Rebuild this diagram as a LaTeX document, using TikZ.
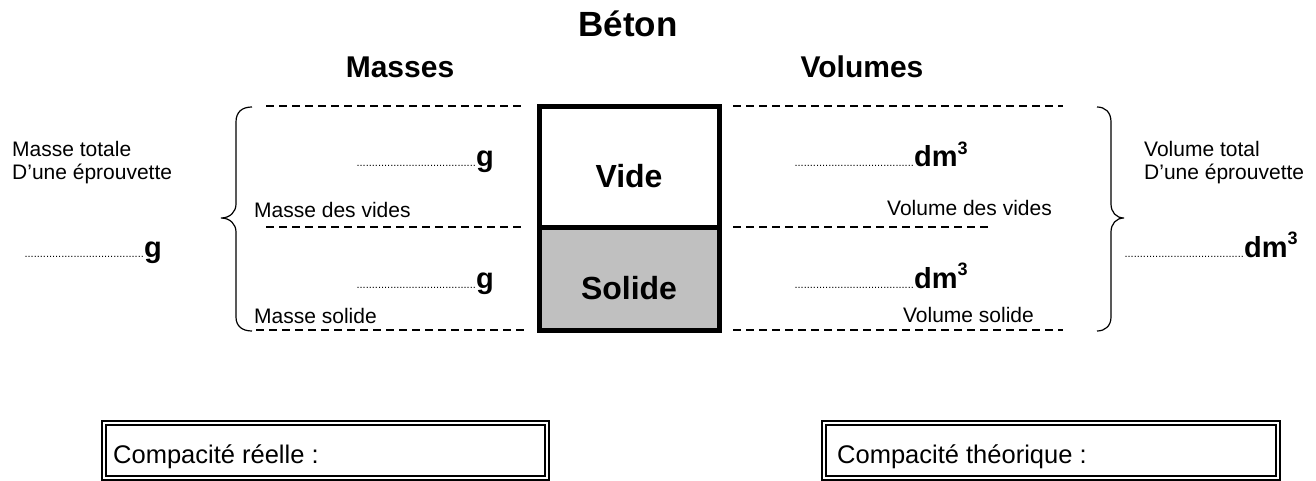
\documentclass[tikz,border=0pt]{standalone}
\usepackage{fontspec}
\setmainfont{Liberation Sans}
\definecolor{solidgray}{HTML}{C0C0C0}
\newcommand{\dotrow}{.......................................}
\newcommand{\cubed}{dm\raisebox{0.42em}{\fontsize{18}{20}\selectfont 3}}
\begin{document}
\begin{tikzpicture}[x=1pt,y=-1pt,
  lbl/.style={font=\fontsize{21}{24}\selectfont, inner sep=0pt},
  boxlbl/.style={font=\fontsize{25.5}{30}\selectfont, inner sep=0pt},
  unit/.style={font=\fontsize{29}{34}\selectfont\bfseries, inner sep=0pt},
  dotsnode/.style={font=\fontsize{11}{13}\selectfont, inner sep=0pt},
  head/.style={font=\fontsize{30}{36}\selectfont\bfseries, inner sep=0pt},
  cell/.style={font=\fontsize{32}{38}\selectfont\bfseries, inner sep=0pt},
  dashline/.style={line width=1.3pt, dash pattern=on 8pt off 5pt},
  bracestyle/.style={line width=1.2pt},
  boxline/.style={line width=1.2pt}]
\useasboundingbox (0,0) rectangle (1316,481);

% title and headers
\node[font=\fontsize{35}{40}\selectfont\bfseries, inner sep=0pt, anchor=base] (title) at (628,37) {Béton};
\node[head, anchor=base] (masses) at (400,78) {Masses};
\node[head, anchor=base] (volumes) at (862,78) {Volumes};

% central box
\fill[white] (539.5,107) rectangle (719.5,227);
\fill[solidgray] (539.5,227) rectangle (719.5,330);
\draw[line width=5pt] (539.5,107) rectangle (719.5,330);
\draw[line width=5pt] (539.5,227) -- (719.5,227);
\node[cell, anchor=base] (vide) at (629,187) {Vide};
\node[cell, anchor=base] (solide) at (629,299) {Solide};

% dashed lines left
\coordinate (lt1) at (266,106); \coordinate (lt2) at (524,106);
\coordinate (lm1) at (266,227); \coordinate (lm2) at (524,227);
\coordinate (lb1) at (256,330); \coordinate (lb2) at (524,330);
\draw[dashline] (lt1) -- (lt2);
\draw[dashline] (lm1) -- (lm2);
\draw[dashline] (lb1) -- (lb2);
% dashed lines right
\coordinate (rt1) at (733,106); \coordinate (rt2) at (1063,106);
\coordinate (rm1) at (733,227); \coordinate (rm2) at (991,227);
\coordinate (rb1) at (733,330); \coordinate (rb2) at (1063,330);
\draw[dashline] (rt1) -- (rt2);
\draw[dashline] (rm1) -- (rm2);
\draw[dashline] (rb1) -- (rb2);

% braces
\draw[bracestyle] (252,107) .. controls (242,107) and (236,112) .. (236,122) -- (236,204)
  .. controls (236,212) and (230,218) .. (221,218)
  .. controls (230,218) and (236,224) .. (236,232) -- (236,317)
  .. controls (236,326) and (242,331) .. (252,331);
\draw[bracestyle] (1097,107) .. controls (1105,107) and (1111,112) .. (1111,122) -- (1111,204)
  .. controls (1111,212) and (1116,218) .. (1124,218)
  .. controls (1116,218) and (1111,224) .. (1111,232) -- (1111,317)
  .. controls (1111,326) and (1105,331) .. (1097,331);

% left labels
\node[lbl, anchor=base west] (mt1) at (12,157) {Masse totale};
\node[lbl, anchor=base west] (mt2) at (12,180) {D’une éprouvette};
\node[dotsnode, anchor=base east] (dl) at (144,257) {\dotrow};
\node[unit, anchor=base west] (gl) at (dl.base east) {g};

\node[dotsnode, anchor=base east] (du) at (476,167) {\dotrow};
\node[unit, anchor=base west] (gu) at (du.base east) {g};
\node[dotsnode, anchor=base east] (dd) at (476,288) {\dotrow};
\node[unit, anchor=base west] (gd) at (dd.base east) {g};
\node[lbl, anchor=base west] (mv) at (254,217) {Masse des vides};
\node[lbl, anchor=base west] (ms) at (254,323) {Masse solide};

% right labels
\node[dotsnode, anchor=base east] (vu) at (914,167) {\dotrow};
\node[unit, anchor=base west] (dmu) at (vu.base east) {\cubed};
\node[dotsnode, anchor=base east] (vd) at (914,288) {\dotrow};
\node[unit, anchor=base west] (dmd) at (vd.base east) {\cubed};
\node[lbl, anchor=base east] (vv) at (1052,215) {Volume des vides};
\node[lbl, anchor=base east] (vs) at (1034,322) {Volume solide};
\node[lbl, anchor=base west] (vt1) at (1144,157) {Volume total};
\node[lbl, anchor=base west] (vt2) at (1144,180) {D’une éprouvette};
\node[dotsnode, anchor=base east] (vr) at (1244,257) {\dotrow};
\node[unit, anchor=base west] (dmr) at (vr.base east) {\cubed};

% compacity boxes
\draw[boxline] (102,421) rectangle (549,480);
\draw[line width=1.6pt] (106,425) rectangle (545,476);
\node[boxlbl, anchor=base west] (cr) at (113,463) {Compacité réelle :};
\draw[boxline] (822,421) rectangle (1280,480);
\draw[line width=1.6pt] (826,425) rectangle (1276,476);
\node[boxlbl, anchor=base west] (ct) at (837,463) {Compacité théorique :};
\end{tikzpicture}
\end{document}
